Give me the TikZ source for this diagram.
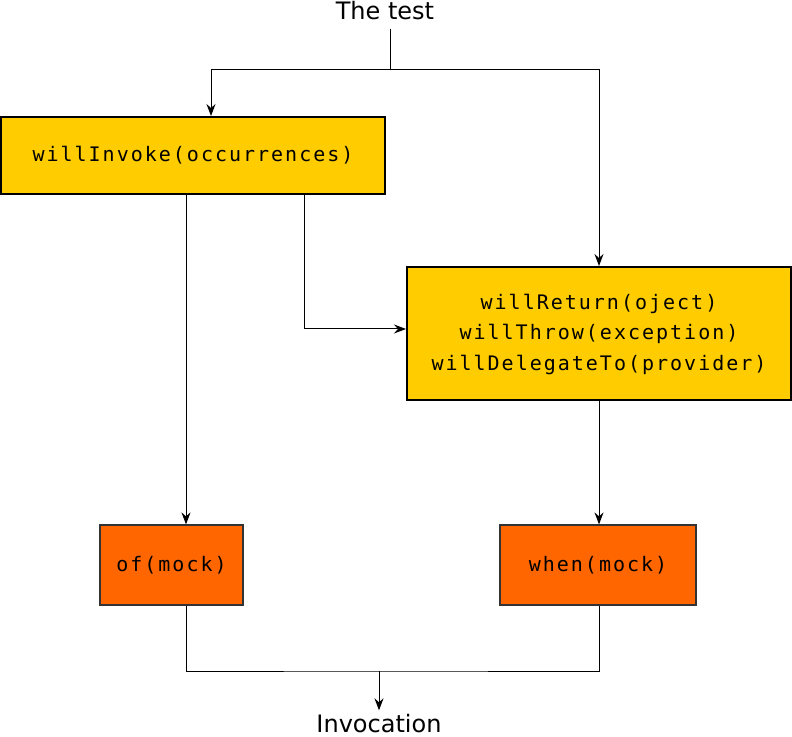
\documentclass[tikz,border=0pt]{standalone}
\usepackage{fontspec}
\setmainfont{DejaVu Sans}
\setmonofont[LetterSpace=10]{DejaVu Sans Mono}
\usetikzlibrary{positioning, arrows.meta}
\definecolor{callyellow}{HTML}{FFCC00}
\definecolor{mockorange}{HTML}{FF6600}

\begin{document}
\begin{tikzpicture}[
        x=0.5pt, y=-0.5pt,
        call/.style={rectangle, draw, line width=1pt, fill=callyellow, align=center, inner sep=0pt, font=\ttfamily\fontsize{10}{15.25}\selectfont},
        mock/.style={rectangle, draw=black!80, line width=0.6pt, fill=mockorange, align=center, inner sep=0pt, minimum height=40pt, font=\ttfamily\fontsize{10}{12}\selectfont},
        endtext/.style={font=\fontsize{12}{14}\selectfont, inner sep=2pt},
        arrow/.style={-{Stealth[length=6pt, width=4.5pt, inset=2pt]}, line width=0.5pt},
        link/.style={line width=0.5pt}
    ]
%
    \useasboundingbox (0,0) rectangle (792,737);
%
    % Nodes
    \node[endtext] (test) at (385,11) {The test};
    \node[call, minimum width=192pt, minimum height=38.5pt] (invoke) at (193,155.5) {willInvoke(occurrences)};
    \node[call, minimum width=192pt, minimum height=66.5pt] (action) at (599,333.5) {\raisebox{-2pt}{\begin{tabular}{@{}c@{}}willReturn(oject)\\willThrow(exception)\\willDelegateTo(provider)\end{tabular}}};
    \node[mock, minimum width=71.5pt] (ofmock) at (171.5,565) {of(mock)};
    \node[mock, minimum width=98pt] (whenmock) at (598,565) {when(mock)};
    \node[endtext] (invocation) at (379,724) {Invocation};
%
    \coordinate (split) at (390,70);
    \coordinate (join) at (379,671);
%
    % Arrows
    \draw[link] ([yshift=-2pt]split |- test.south) -- (split);
    \draw[arrow] (split) -| ([xshift=9pt]invoke.north);
    \draw[arrow] (split) -| (action.north);
%
    \draw[arrow] ([xshift=-3.5pt]invoke.south) -- ([xshift=7.25pt]ofmock.north);
    \draw[arrow] ([xshift=55.5pt]invoke.south) |- ([yshift=2.25pt]action.west);
    \draw[arrow] (action.south) -- (action.south |- whenmock.north);
%
    \draw[link] ([xshift=7.25pt]ofmock.south) |- (join) -| ([xshift=0.5pt]whenmock.south);
    \draw[arrow] (join) -- (invocation.north);
%
\end{tikzpicture}
\end{document}
